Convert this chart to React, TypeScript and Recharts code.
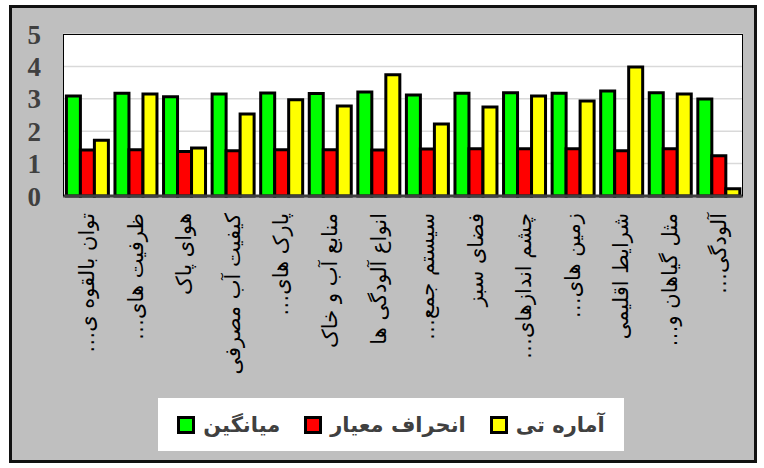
import React from 'react';
import { BarChart, Bar, XAxis, YAxis, CartesianGrid, Legend } from 'recharts';

const categories = [
  'توان بالقوه ی…',
  'ظرفیت های…',
  'هوای پاک',
  'کیفیت آب مصرفی',
  'پارک های…',
  'منابع آب و خاک',
  'انواع آلودگی ها',
  'سیستم جمع…',
  'فضای سبز',
  'چشم اندازهای…',
  'زمین های…',
  'شرایط اقلیمی',
  'مثل گیاهان و…',
  'آلودگی…',
];
const meanValues = [3.09, 3.17, 3.06, 3.15, 3.18, 3.16, 3.21, 3.12, 3.17, 3.19, 3.17, 3.24, 3.19, 2.99];
const stdValues = [1.42, 1.43, 1.37, 1.40, 1.43, 1.43, 1.42, 1.45, 1.46, 1.46, 1.46, 1.40, 1.46, 1.24];
const tValues = [1.72, 3.15, 1.48, 2.53, 2.97, 2.78, 3.74, 2.22, 2.75, 3.09, 2.93, 3.98, 3.15, 0.22];
const yTicks = [0, 1, 2, 3, 4, 5];
const seriesNames = ['میانگین', 'انحراف معیار', 'آماره تی'];
const seriesKeys = ['mean', 'std', 't'];
const seriesColors = ['#00FF00', '#FF0000', '#FFFF00'];

const data = categories.map((name, i) => ({
  name,
  mean: meanValues[i],
  std: stdValues[i],
  t: tValues[i],
}));

const CategoryTick = (props: any) => {
  const { x, y, payload } = props;
  const ty = y + 17;
  return (
    <text
      x={x}
      y={ty}
      transform={`rotate(-90, ${x}, ${ty})`}
      direction="rtl"
      textAnchor="start"
      dy="0.33em"
      fontSize={21}
      fontFamily="DejaVu Sans"
      fill="#000"
    >
      {payload.value}
    </text>
  );
};

const renderLegend = () => (
  <div
    style={{
      background: '#fff',
      width: 466,
      height: 53,
      display: 'flex',
      alignItems: 'center',
      justifyContent: 'center',
      boxSizing: 'border-box',
    }}
  >
    {seriesNames.map((n, i) => (
      <div key={n} style={{ display: 'flex', alignItems: 'center', marginLeft: i ? 24 : 0 }}>
        <span
          style={{
            width: 12,
            height: 12,
            border: '3px solid #000',
            background: seriesColors[i],
            display: 'inline-block',
          }}
        />
        <span
          style={{
            marginLeft: 8,
            fontWeight: 700,
            fontSize: 21,
            color: '#404040',
            fontFamily: 'DejaVu Sans',
            direction: 'rtl',
          }}
        >
          {n}
        </span>
      </div>
    ))}
  </div>
);

export default function App() {
  return (
    <div style={{ position: 'absolute', left: 0, top: 0, width: 764, height: 468 }}>
      <div
        style={{
          position: 'absolute',
          left: 9,
          top: 5,
          width: 748,
          height: 458,
          border: '3px solid #111',
          background: '#BFBFBF',
          boxSizing: 'border-box',
        }}
      />
      <div style={{ position: 'absolute', left: 0, top: 0 }}>
        <BarChart
          width={764}
          height={468}
          data={data}
          margin={{ top: 34, right: 21, left: 23, bottom: 172 }}
          barCategoryGap="7%"
          barGap={0}
        >
          <CartesianGrid vertical={false} stroke="#D9D9D9" strokeWidth={1.5} fill="#FFFFFF" />
          <YAxis
            width={40}
            domain={[0, 5]}
            ticks={yTicks}
            interval={0}
            axisLine={false}
            tickLine={false}
            tickSize={0}
            tickMargin={22}
            tick={{ fontSize: 27, fontWeight: 700, fill: '#404040', fontFamily: 'Liberation Serif' }}
          />
          <XAxis
            dataKey="name"
            height={100}
            interval={0}
            tickLine={false}
            tickSize={0}
            tickMargin={0}
            axisLine={{ stroke: '#404040', strokeWidth: 3 }}
            tick={<CategoryTick />}
          />
          {seriesKeys.map((k, i) => (
            <Bar
              key={k}
              dataKey={k}
              name={seriesNames[i]}
              fill={seriesColors[i]}
              stroke="#000"
              strokeWidth={3}
              isAnimationActive={false}
            />
          ))}
          <Legend
            layout="horizontal"
            verticalAlign="middle"
            align="center"
            content={renderLegend}
            wrapperStyle={{ position: 'absolute', left: 158, top: 398, width: 466, height: 53 }}
          />
        </BarChart>
      </div>
      <div
        style={{
          position: 'absolute',
          left: 63,
          top: 34,
          width: 680,
          height: 162,
          border: '1px solid #000',
          borderBottom: 'none',
          boxSizing: 'border-box',
          pointerEvents: 'none',
        }}
      />
    </div>
  );
}
